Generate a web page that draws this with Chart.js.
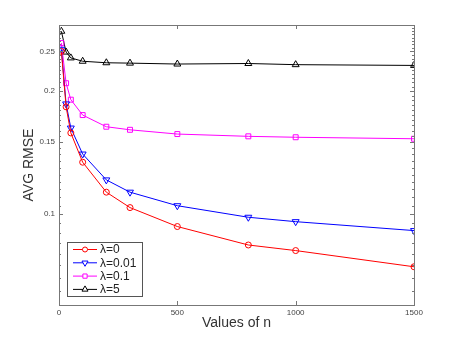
<!DOCTYPE html>
<html lang="en">
<head>
  <meta charset="UTF-8" />
  <title>AVG RMSE vs n</title>
  <script src="https://cdn.jsdelivr.net/npm/chart.js"></script>
  <style>
    body { margin: 0; background: #fff; }
    #wrap { width: 457px; height: 343px; }
  </style>
</head>
<body>
  <div id="wrap"><canvas id="rmseChart"></canvas></div>

  <script>
    // values of n (x axis)
    const nValues = [10, 30, 50, 100, 200, 300, 500, 800, 1000, 1500];

    // AVG RMSE for each lambda
    const rmseLambda0   = [0.250, 0.183, 0.158, 0.134, 0.1132, 0.1038, 0.0933, 0.0841, 0.0815, 0.0744];
    const rmseLambda001 = [0.253, 0.186, 0.1624, 0.1403, 0.1213, 0.1132, 0.1049, 0.0983, 0.0959, 0.0912];
    const rmseLambda01  = [0.262, 0.209, 0.1905, 0.1747, 0.1636, 0.1608, 0.157, 0.155, 0.1542, 0.1529];
    const rmseLambda5   = [0.280, 0.249, 0.241, 0.2365, 0.2345, 0.234, 0.2328, 0.2335, 0.232, 0.231];

    const seriesNames = ['\u03bb=0', '\u03bb=0.01', '\u03bb=0.1', '\u03bb=5'];

    // tick labels
    const xTickLabels = [0, 500, 1000, 1500];
    const yTickLabels = [0.1, 0.15, 0.2, 0.25];

    const toPoints = arr => arr.map((v, i) => ({ x: nValues[i], y: v }));

    // minor ticks on the log axis, every 0.005
    const yAllTicks = [];
    for (let i = 0; i <= 46; i++) yAllTicks.push(Math.round((0.06 + i * 0.005) * 1000) / 1000);

    const FRAME = '#777';

    // box around the plot + inward tick marks (matlab style)
    const frameTicks = {
      id: 'frameTicks',
      afterDatasetsDraw(chart) {
        const { ctx, chartArea: a, scales } = chart;
        ctx.save();
        ctx.strokeStyle = FRAME;
        ctx.lineWidth = 1;
        ctx.strokeRect(Math.round(a.left) + 0.5, Math.round(a.top) + 0.5,
          Math.round(a.right - a.left), Math.round(a.bottom - a.top));
        ctx.beginPath();
        scales.x.ticks.forEach(t => {
          const px = Math.round(scales.x.getPixelForValue(t.value)) + 0.5;
          ctx.moveTo(px, a.bottom); ctx.lineTo(px, a.bottom - 4);
          ctx.moveTo(px, a.top); ctx.lineTo(px, a.top + 4);
        });
        scales.y.ticks.forEach(t => {
          const major = yTickLabels.includes(t.value);
          const len = major ? 4 : 2;
          const py = Math.round(scales.y.getPixelForValue(t.value)) + 0.5;
          ctx.moveTo(a.left, py); ctx.lineTo(a.left + len, py);
          ctx.moveTo(a.right, py); ctx.lineTo(a.right - len, py);
        });
        ctx.stroke();
        ctx.restore();
      },
      afterDraw(chart) {
        // legend box, lower left inside the axes
        const { ctx, chartArea: a } = chart;
        const bx = a.left + 8, by = a.bottom - 63, bw = 75, bh = 54;
        ctx.save();
        ctx.fillStyle = '#fff';
        ctx.fillRect(bx, by, bw, bh);
        ctx.strokeStyle = '#555';
        ctx.lineWidth = 1;
        ctx.strokeRect(bx + 0.5, by + 0.5, bw, bh);
        ctx.font = '12px "Liberation Sans", Arial, sans-serif';
        ctx.textBaseline = 'middle';
        chart.data.datasets.forEach((ds, i) => {
          const y = by + 7.5 + i * 13.3;
          ctx.strokeStyle = ds.borderColor;
          ctx.lineWidth = 1;
          ctx.beginPath();
          ctx.moveTo(bx + 6, y); ctx.lineTo(bx + 30, y);
          ctx.stroke();
          ctx.fillStyle = '#fff';
          ctx.strokeStyle = ds.pointBorderColor;
          Chart.helpers.drawPoint(ctx, {
            pointStyle: ds.pointStyle, rotation: ds.pointRotation || 0,
            radius: ds.pointRadius - 0.5, borderWidth: 1
          }, bx + 18, y);
          ctx.fillStyle = '#222';
          ctx.fillText(ds.label, bx + 33, y + 0.5);
        });
        ctx.restore();
      }
    };

    const common = { borderWidth: 1, pointBorderWidth: 1, pointBackgroundColor: 'rgba(0,0,0,0)', tension: 0 };

    new Chart(document.getElementById('rmseChart'), {
      type: 'line',
      data: {
        datasets: [
          { ...common, label: seriesNames[0], data: toPoints(rmseLambda0), borderColor: '#ff0000', pointBorderColor: '#ff0000', pointStyle: 'circle', pointRadius: 3 },
          { ...common, label: seriesNames[1], data: toPoints(rmseLambda001), borderColor: '#0000ff', pointBorderColor: '#0000ff', pointStyle: 'triangle', pointRotation: 180, pointRadius: 4 },
          { ...common, label: seriesNames[2], data: toPoints(rmseLambda01), borderColor: '#ff00ff', pointBorderColor: '#ff00ff', pointStyle: 'rect', pointRadius: 3.5 },
          { ...common, label: seriesNames[3], data: toPoints(rmseLambda5), borderColor: '#000000', pointBorderColor: '#000000', pointStyle: 'triangle', pointRadius: 4 }
        ]
      },
      options: {
        responsive: true,
        maintainAspectRatio: false,
        animation: false,
        layout: { padding: { left: 0, top: 25, right: 43, bottom: 0 } },
        plugins: { legend: { display: false }, tooltip: { enabled: false } },
        scales: {
          x: {
            type: 'linear',
            min: 0, max: 1500,
            grid: { display: false, drawTicks: false },
            border: { display: false },
            afterBuildTicks: s => { s.ticks = xTickLabels.map(v => ({ value: v })); },
            afterFit: s => { s.height = 38; },
            ticks: {
              padding: 3,
              color: '#444',
              maxRotation: 0,
              font: { family: '"Liberation Sans", Arial, sans-serif', size: 8 },
              callback: v => String(v)
            },
            title: {
              display: true,
              text: 'Values of n',
              color: '#333',
              font: { family: '"Liberation Sans", Arial, sans-serif', size: 14 },
              padding: { top: 0, bottom: 11 }
            }
          },
          y: {
            type: 'logarithmic',
            min: 0.06, max: 0.29,
            grid: { display: false, drawTicks: false },
            border: { display: false },
            afterBuildTicks: s => { s.ticks = yAllTicks.map(v => ({ value: v })); },
            afterFit: s => { s.width = 59; },
            ticks: {
              padding: 4,
              autoSkip: false,
              color: '#444',
              font: { family: '"Liberation Sans", Arial, sans-serif', size: 8 },
              callback: v => {
                const r = Math.round(v * 1000) / 1000;
                return yTickLabels.includes(r) ? String(r) : '';
              }
            },
            title: {
              display: true,
              text: 'AVG RMSE',
              color: '#333',
              font: { family: '"Liberation Sans", Arial, sans-serif', size: 14 },
              padding: { top: 21, bottom: 0 }
            }
          }
        }
      },
      plugins: [frameTicks]
    });
  </script>
</body>
</html>
